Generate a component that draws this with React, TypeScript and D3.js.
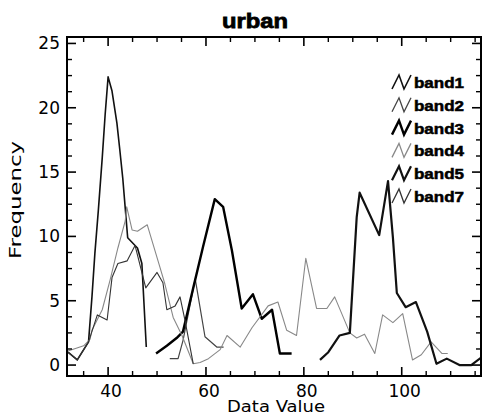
import * as d3 from "d3";
import React from "react";

// histogram traces: [data value, frequency]
const band1 = [
  [31.8, 1.0], [33.7, 0.4], [36.0, 1.8], [36.7, 5.3], [37.3, 8.7], [38.0, 12.0],
  [38.8, 16.1], [39.4, 19.5], [40.0, 22.4], [40.8, 21.3], [41.8, 18.8], [42.4, 16.7],
  [43.0, 14.5], [43.5, 12.2], [44.0, 9.9], [46.0, 9.1], [46.9, 7.9], [47.8, 1.4],
];
const band2 = [
  [52.6, 0.5], [54.3, 0.5], [55.3, 1.9], [57.8, 6.7], [59.8, 2.2], [62.2, 1.4], [63.6, 1.4],
];
const band3 = [
  [49.8, 0.9], [52.0, 1.5], [54.0, 2.1], [55.3, 2.6], [57.4, 6.0], [59.4, 9.2],
  [61.8, 12.9], [63.5, 12.3], [65.3, 8.9], [67.3, 4.4], [69.6, 5.5], [71.4, 3.6],
  [73.5, 4.3], [75.1, 0.9], [77.5, 0.9],
];
const band4 = [
  [31.8, 1.1], [35.0, 1.5], [36.3, 2.0], [36.7, 2.7], [38.8, 4.3], [40.4, 6.6],
  [42.0, 9.1], [43.5, 11.2], [43.8, 12.3], [44.9, 10.5], [46.0, 10.4], [48.0, 10.9],
  [50.6, 7.6], [51.6, 6.3], [53.3, 3.7], [55.1, 2.3], [57.4, 0.1], [58.8, 0.2],
  [60.5, 0.5], [62.9, 1.2], [64.3, 2.3], [67.0, 1.4], [69.4, 2.9], [72.7, 4.6],
  [74.7, 4.9], [76.5, 2.7], [78.5, 2.3], [80.4, 8.3], [82.6, 4.4], [84.7, 4.4],
  [86.3, 5.3], [89.4, 2.5], [90.8, 2.1], [92.4, 2.4], [94.5, 0.9], [96.1, 3.9],
  [98.2, 3.3], [100.2, 4.0], [102.2, 0.4], [104.0, 0.8], [106.0, 1.8], [108.2, 0.9],
  [109.4, 0.9],
];
const band5 = [
  [83.3, 0.4], [85.0, 1.0], [87.3, 2.3], [89.4, 2.5], [90.8, 11.5], [91.4, 13.4],
  [95.4, 10.1], [97.2, 14.3], [98.2, 9.9], [99.0, 5.6], [100.8, 4.5], [102.9, 4.9],
  [105.2, 2.6], [107.1, 0.1], [109.2, 0.5], [111.8, 0.0], [114.2, 0.0], [116.3, 0.6],
];
const band7 = [
  [31.8, 1.0], [33.7, 0.4], [36.0, 1.8], [37.8, 3.9], [39.8, 3.5], [40.8, 6.8],
  [42.0, 7.9], [43.9, 8.1], [45.5, 9.3], [47.7, 6.0], [50.0, 7.2], [51.2, 6.4],
  [52.0, 4.3], [53.7, 4.6], [54.7, 5.3], [55.7, 3.5], [57.4, 0.1],
];

const bandNames = ["band1", "band2", "band3", "band4", "band5", "band7"];
const bandData = [band1, band2, band3, band4, band5, band7];
const bandColors = ["#111", "#444", "#000", "#888", "#111", "#333"];
const bandWidths = [1.6, 1.2, 2.4, 1.1, 2.2, 1.1];

const xTicks = [40, 60, 80, 100];
const yTicks = [0, 5, 10, 15, 20, 25];

const W = 482;
const H = 417;
const box = { left: 67, right: 481, top: 37, bottom: 376 };

const App = (): React.ReactElement => {
  const x = d3.scaleLinear().domain([31.6, 116.2]).range([box.left, box.right]);
  const y = d3.scaleLinear().domain([-0.85, 25.5]).range([box.bottom, box.top]);

  const line = d3
    .line<number[]>()
    .x((d) => x(d[0]))
    .y((d) => y(d[1]));

  const xMinor = d3.range(35, 116, 5).filter((v) => !xTicks.includes(v));
  const yMinor = d3.range(1.25, 25.5, 1.25).filter((v) => v % 5 !== 0);

  const hersh = "'DejaVu Sans', sans-serif";
  const heavy = "'Liberation Sans', Arial, sans-serif";

  return (
    <svg
      width={W}
      height={H}
      style={{ position: "absolute", left: 0, top: 0, background: "#fff" }}
    >
      {/* traces */}
      {bandData.map((d, i) => (
        <path
          key={bandNames[i]}
          d={line(d) as string}
          fill="none"
          stroke={bandColors[i]}
          strokeWidth={bandWidths[i]}
          strokeLinejoin="round"
        />
      ))}

      {/* frame */}
      <rect
        x={box.left}
        y={box.top}
        width={box.right - box.left}
        height={box.bottom - box.top}
        fill="none"
        stroke="#000"
        strokeWidth={2}
      />

      {/* x ticks */}
      {xTicks.map((v) => (
        <g key={"xt" + v}>
          <line x1={x(v)} x2={x(v)} y1={box.bottom} y2={box.bottom - 9} stroke="#000" strokeWidth={1.6} />
          <line x1={x(v)} x2={x(v)} y1={box.top} y2={box.top + 9} stroke="#000" strokeWidth={1.6} />
          <text x={x(v) + 3} y={397} textAnchor="middle" fontFamily={hersh} fontSize={17}>
            {v}
          </text>
        </g>
      ))}
      {xMinor.map((v) => (
        <g key={"xm" + v}>
          <line x1={x(v)} x2={x(v)} y1={box.bottom} y2={box.bottom - 5} stroke="#000" strokeWidth={1.4} />
          <line x1={x(v)} x2={x(v)} y1={box.top} y2={box.top + 5} stroke="#000" strokeWidth={1.4} />
        </g>
      ))}

      {/* y ticks */}
      {yTicks.map((v) => (
        <g key={"yt" + v}>
          <line x1={box.left} x2={box.left + 9} y1={y(v)} y2={y(v)} stroke="#000" strokeWidth={1.6} />
          <line x1={box.right} x2={box.right - 9} y1={y(v)} y2={y(v)} stroke="#000" strokeWidth={1.6} />
          <text x={60} y={y(v) + 6} textAnchor="end" fontFamily={hersh} fontSize={17}>
            {v}
          </text>
        </g>
      ))}
      {yMinor.map((v) => (
        <g key={"ym" + v}>
          <line x1={box.left} x2={box.left + 5} y1={y(v)} y2={y(v)} stroke="#000" strokeWidth={1.4} />
          <line x1={box.right} x2={box.right - 5} y1={y(v)} y2={y(v)} stroke="#000" strokeWidth={1.4} />
        </g>
      ))}

      {/* titles */}
      <text
        x={255}
        y={28}
        textAnchor="middle"
        fontFamily={heavy}
        fontWeight="bold"
        fontSize={21}
        stroke="#000"
        strokeWidth={0.8}
        textLength={66}
        lengthAdjust="spacingAndGlyphs"
      >
        urban
      </text>
      <text
        x={276}
        y={412}
        textAnchor="middle"
        fontFamily={hersh}
        fontSize={15}
        textLength={98}
        lengthAdjust="spacingAndGlyphs"
      >
        Data Value
      </text>
      <text
        transform={`translate(21, 200) rotate(-90)`}
        textAnchor="middle"
        fontFamily={hersh}
        fontSize={16}
        textLength={118}
        lengthAdjust="spacingAndGlyphs"
      >
        Frequency
      </text>

      {/* legend */}
      {bandNames.map((name, i) => {
        const ly = 83 + i * 22.8;
        return (
          <g key={"lg" + name}>
            <path
              d={`M392,${ly + 6} L399,${ly - 8} L404,${ly + 6} L411,${ly - 8}`}
              fill="none"
              stroke={bandColors[i]}
              strokeWidth={Math.max(1.3, bandWidths[i])}
            />
            <text
              x={414}
              y={ly + 5}
              fontFamily={heavy}
              fontWeight="bold"
              fontSize={14}
              stroke="#000"
              strokeWidth={0.5}
              textLength={50}
              lengthAdjust="spacingAndGlyphs"
            >
              {name}
            </text>
          </g>
        );
      })}
    </svg>
  );
};

export default App;
